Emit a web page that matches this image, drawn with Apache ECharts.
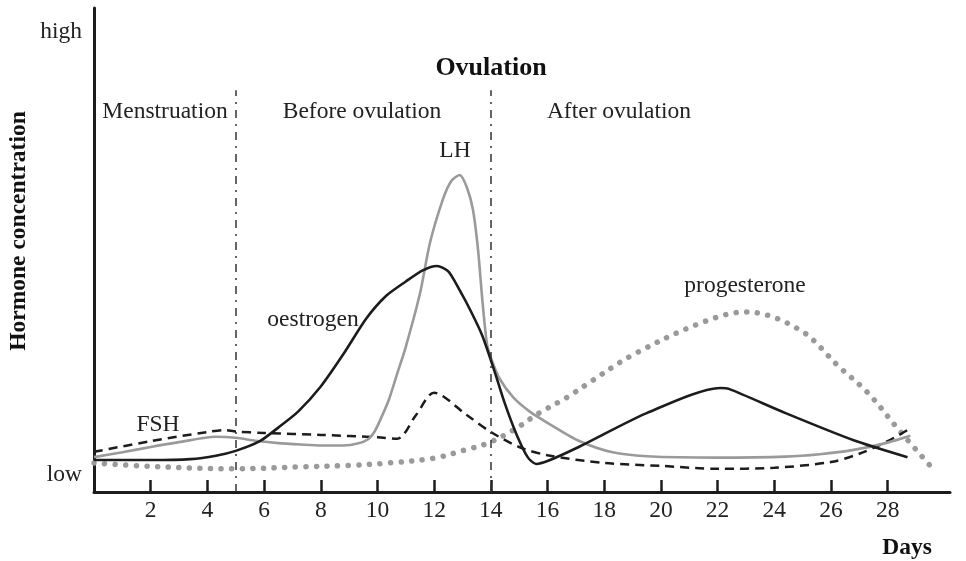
<!DOCTYPE html>
<html>
<head>
<meta charset="utf-8">
<script src="https://cdn.jsdelivr.net/npm/echarts@6/dist/echarts.min.js"></script>
<style>
html,body{margin:0;padding:0;background:#fff;}
#chart{width:966px;height:561px;}
</style>
</head>
<body>
<div id="chart"></div>
<script>
// ---- data ----
var xTickValues = [2, 4, 6, 8, 10, 12, 14, 16, 18, 20, 22, 24, 26, 28];
var yLabelValues = [3.5, 95];
var yLabelTexts = ['low', 'high'];
var phaseLineDays = [5, 14];
var phaseLineTop = 83;

var fshDays = [0, 2, 4, 4.6, 5, 6, 8, 10, 10.7, 11.35, 12, 13.15, 14, 15, 16, 18, 20, 22, 24, 26, 27, 28, 28.7];
var fshVals = [8.3, 10.5, 12.4, 12.8, 12.5, 12.2, 11.8, 11.3, 11.0, 15.8, 20.5, 15.9, 12.4, 9.3, 7.6, 6.0, 5.4, 4.8, 5.0, 6.2, 7.9, 10.5, 12.8];

var lhDays = [0, 1, 2, 3, 4.3, 5, 5.7, 6.5, 7.3, 8, 8.8, 9.3, 9.67, 9.9, 10.1, 10.4, 10.7, 11, 11.5, 11.85, 12.3, 12.6, 12.9, 13.15, 13.37, 13.55, 13.7, 13.86, 14.0, 14.3, 14.8, 15.4, 16, 17.1, 18.3, 19.5, 22, 24.4, 25.6, 26.8, 28, 28.8];
var lhVals = [7.2, 8.2, 9.3, 10.3, 11.4, 11.2, 10.6, 10.1, 9.8, 9.6, 9.6, 10.0, 10.9, 12.5, 14.9, 19, 24.5, 30, 41, 51.4, 60.3, 64.2, 65.5, 63, 58.3, 50, 39.7, 30.8, 27.8, 23.5, 19.5, 16.5, 14.3, 10.6, 8.2, 7.4, 7.1, 7.3, 7.8, 8.7, 10.2, 11.6];

var oeDays = [0, 2, 3.4, 4.3, 5, 5.85, 6.5, 7.2, 8, 8.8, 9.6, 10.3, 11, 11.6, 12.1, 12.5, 12.9, 13.3, 13.7, 14.1, 14.5, 14.9, 15.3, 15.6, 16, 17.1, 19.5, 22.1, 22.4, 24.4, 26.8, 28.7];
var oeVals = [6.6, 6.6, 6.8, 7.5, 8.5, 10.5, 13.3, 16.6, 21.8, 28.5, 35.8, 40.5, 43.5, 45.8, 46.7, 45.6, 41.7, 37.3, 32.3, 25.5, 18.2, 12, 7.2, 5.8, 6.4, 9.3, 16.3, 21.5, 21.3, 16.3, 10.7, 7.2];

var prDays = [0, 2, 5, 7.3, 9, 10.4, 12, 13.1, 13.9, 14.8, 15.7, 16.7, 17.5, 19, 21.4, 23, 24.9, 26.3, 27.3, 28.4, 29.7];
var prVals = [6, 5.3, 4.8, 5.2, 5.5, 6, 7, 8.7, 10.1, 12.8, 16.3, 19.6, 22.7, 28.3, 34.9, 37.2, 33.5, 25.8, 20.5, 12.8, 4.1];

// ---- build ----
function pairs(xs, ys) { return xs.map(function (x, i) { return [x, ys[i]]; }); }

var serif = '"Liberation Serif", "DejaVu Serif", serif';
var ink = '#1c1c1c';
var grey = '#9a9a9a';

var chart = echarts.init(document.getElementById('chart'), null, { renderer: 'canvas' });

function txt(s, x, y, font) {
  return { type: 'text', x: x, y: y, style: { text: s, font: font, fill: '#222', align: 'center', verticalAlign: 'middle' } };
}

var option = {
  animation: false,
  backgroundColor: '#fff',
  grid: { left: 94, right: 16, top: 8, bottom: 69, containLabel: false },
  xAxis: {
    type: 'value', min: 0, max: 30.2,
    splitLine: { show: false },
    axisLine: { show: true, onZero: false, lineStyle: { color: ink, width: 3 } },
    axisTick: { show: true, inside: true, length: 12, customValues: xTickValues, lineStyle: { color: ink, width: 2.5 } },
    axisLabel: { show: true, customValues: xTickValues, margin: 7, color: '#222', fontFamily: serif, fontSize: 23.5 }
  },
  yAxis: {
    type: 'value', min: 0, max: 100,
    splitLine: { show: false },
    axisLine: { show: true, onZero: false, lineStyle: { color: ink, width: 3 } },
    axisTick: { show: false },
    axisLabel: {
      show: true, customValues: yLabelValues, margin: 12, color: '#222', fontFamily: serif, fontSize: 23.5,
      formatter: function (v) { var i = yLabelValues.indexOf(v); return i >= 0 ? yLabelTexts[i] : ''; }
    }
  },
  series: [
    {
      name: 'progesterone', type: 'line', data: pairs(prDays, prVals), showSymbol: false, smooth: 0.35,
      lineStyle: { color: grey, width: 5.5, type: [0.1, 10.5], cap: 'round' }, z: 2
    },
    {
      name: 'FSH', type: 'line', data: pairs(fshDays, fshVals), showSymbol: false, smooth: 0.3,
      lineStyle: { color: ink, width: 2.5, type: [9, 6] }, z: 3
    },
    {
      name: 'LH', type: 'line', data: pairs(lhDays, lhVals), showSymbol: false, smooth: 0.25,
      lineStyle: { color: grey, width: 2.6 }, z: 3
    },
    {
      name: 'oestrogen', type: 'line', data: pairs(oeDays, oeVals), showSymbol: false, smooth: 0.25,
      lineStyle: { color: ink, width: 2.6 }, z: 4,
      markLine: {
        silent: true, symbol: ['none', 'none'], label: { show: false },
        lineStyle: { color: '#333', width: 1.5, type: [8, 6, 2, 6] },
        data: phaseLineDays.map(function (d) { return [{ coord: [d, 0] }, { coord: [d, phaseLineTop] }]; })
      }
    }
  ],
  graphic: [
    { type: 'text', x: 19, y: 231, rotation: Math.PI / 2,
      style: { text: 'Hormone concentration', font: 'bold 23.5px ' + serif, fill: '#111', align: 'center', verticalAlign: 'middle' } },
    { type: 'text', x: 907, y: 548, style: { text: 'Days', font: 'bold 23.5px ' + serif, fill: '#111', align: 'center', verticalAlign: 'middle' } },
    { type: 'text', x: 491, y: 68, style: { text: 'Ovulation', font: 'bold 26px ' + serif, fill: '#111', align: 'center', verticalAlign: 'middle' } },
    txt('Menstruation', 165, 112, '23.5px ' + serif),
    txt('Before ovulation', 362, 112, '23.5px ' + serif),
    txt('After ovulation', 619, 112, '23.5px ' + serif),
    txt('LH', 455, 151, '23.5px ' + serif),
    txt('oestrogen', 313, 320, '23.5px ' + serif),
    txt('progesterone', 745, 286, '23.5px ' + serif),
    txt('FSH', 158, 425, '23.5px ' + serif)
  ]
};
chart.setOption(option);
</script>
</body>
</html>
